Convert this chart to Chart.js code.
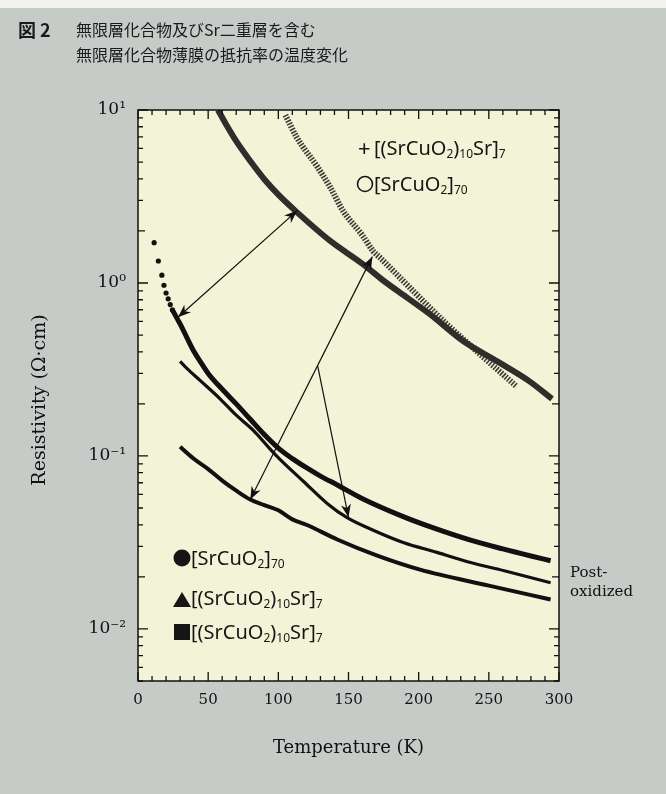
<!DOCTYPE html>
<html><head><meta charset="utf-8">
<script src="https://cdn.jsdelivr.net/npm/chart.js@4.4.1/dist/chart.umd.min.js"></script>
<style>
html,body{margin:0;padding:0;background:#c7cbc8;}
canvas{display:block;}
</style></head>
<body>
<canvas id="c" width="666" height="794"></canvas>
<script>
// ---- data ----
const xTicks = [0, 50, 100, 150, 200, 250, 300];
const yTicks = [0.01, 0.1, 1, 10];

// open circles [SrCuO2]70
const circT = [57, 63, 70, 80, 90, 100, 112, 137, 160, 175, 192, 208, 232, 256, 279, 295];
const circR = [10, 8.2, 6.6, 5.07, 3.98, 3.24, 2.62, 1.75, 1.29, 1.03, 0.82, 0.66, 0.46, 0.352, 0.27, 0.214];

// crosses [(SrCuO2)10Sr]7
const crossT = [105, 113, 128, 137, 146, 160, 167.5, 172.5, 196, 220, 244, 270];
const crossR = [9.35, 6.97, 4.67, 3.57, 2.62, 1.88, 1.53, 1.40, 0.90, 0.578, 0.386, 0.251];

// filled circles [SrCuO2]70 : separate low-T dots, then dense line
const fcDotT = [11.5, 14.5, 17, 18.5, 20, 21.5, 23, 24.5];
const fcDotR = [1.71, 1.34, 1.11, 0.97, 0.875, 0.81, 0.75, 0.70];
const fcLineT = [24.5, 28, 31, 35, 40, 45, 50, 60, 70, 80, 90, 100, 110, 120, 130, 142, 160, 189, 210, 237, 260, 280, 294];
const fcLineR = [0.70, 0.62, 0.56, 0.48, 0.40, 0.345, 0.30, 0.243, 0.20, 0.163, 0.133, 0.111, 0.0965, 0.0855, 0.0765, 0.068, 0.0566, 0.0446, 0.0385, 0.0326, 0.029, 0.0264, 0.0248];

// triangles [(SrCuO2)10Sr]7
const triT = [30, 35, 45, 58.5, 70, 82, 94, 101, 118, 135, 149, 166, 189, 213, 237, 261, 294];
const triR = [0.352, 0.32, 0.27, 0.214, 0.172, 0.141, 0.11, 0.096, 0.0712, 0.053, 0.044, 0.0377, 0.0316, 0.0277, 0.0242, 0.0217, 0.0185];

// squares [(SrCuO2)10Sr]7 post-oxidized
const sqT = [30, 40, 50, 60, 70, 80, 90, 100, 110, 120, 142, 170, 201, 250, 294];
const sqR = [0.113, 0.096, 0.084, 0.072, 0.063, 0.056, 0.052, 0.0485, 0.043, 0.040, 0.0329, 0.0266, 0.022, 0.0178, 0.0148];

// annotation arrows: [T1, R1, T2, R2, headAtStart, headAtEnd]
const arrowA = [113.5, 2.62, 28.5, 0.634, true, true];
const arrowB = [167, 1.42, 80, 0.056, true, true];
const arrowC = [128, 0.333, 150, 0.0442, false, true];

const pts = (xs, ys) => xs.map((x, i) => ({x: x, y: ys[i]}));

const SUP = {'0':'\u2070','1':'\u00b9','2':'\u00b2','3':'\u00b3','-':'\u207b'};
const supStr = s => s.split('').map(ch => SUP[ch] || ch).join('');

const serif = '"DejaVu Serif", "Liberation Serif", serif';
const sans = '"Noto Sans", "Open Sans", sans-serif';
const cjk = '"Noto Sans CJK JP", "Noto Sans", sans-serif';

function drawRich(ctx, x, yMid, parts, size) {
  let cx = x;
  ctx.textBaseline = 'alphabetic';
  ctx.textAlign = 'left';
  const base = yMid + size * 0.36;
  parts.forEach(([t, sub]) => {
    const fs = sub ? Math.round(size * 0.6) : size;
    ctx.font = fs + 'px ' + sans;
    ctx.fillText(t, cx, sub ? base + size * 0.14 : base);
    cx += ctx.measureText(t).width;
  });
}

const bgPlugin = {
  id: 'bg',
  beforeDraw(chart) {
    const {ctx, chartArea: a} = chart;
    ctx.save();
    ctx.fillStyle = '#c7cbc8';
    ctx.fillRect(0, 0, chart.width, chart.height);
    ctx.fillStyle = '#f1f1ef';
    ctx.fillRect(0, 0, chart.width, 8);
    ctx.fillStyle = '#f2f3d7';
    ctx.fillRect(a.left, a.top, a.right - a.left, a.bottom - a.top);
    ctx.restore();
  }
};

function arrowHead(ctx, x1, y1, x2, y2) {
  const ang = Math.atan2(y2 - y1, x2 - x1);
  const L = 13, W = 5;
  ctx.save();
  ctx.translate(x2, y2);
  ctx.rotate(ang);
  ctx.beginPath();
  ctx.moveTo(0, 0);
  ctx.lineTo(-L, -W);
  ctx.lineTo(-L * 0.7, 0);
  ctx.lineTo(-L, W);
  ctx.closePath();
  ctx.fill();
  ctx.restore();
}

const decoPlugin = {
  id: 'deco',
  afterDatasetsDraw(chart) {
    const {ctx, chartArea: a, scales: {x, y}} = chart;
    ctx.save();
    ctx.strokeStyle = '#111';
    ctx.fillStyle = '#111';
    ctx.lineWidth = 1.5;
    ctx.strokeRect(a.left, a.top, a.right - a.left, a.bottom - a.top);
    ctx.lineWidth = 1.3;
    for (let v = x.min; v <= x.max; v += 10) {
      const px = x.getPixelForValue(v);
      const len = (v % 50 === 0) ? 9 : 5;
      ctx.beginPath();
      ctx.moveTo(px, a.bottom); ctx.lineTo(px, a.bottom - len);
      ctx.moveTo(px, a.top); ctx.lineTo(px, a.top + len);
      ctx.stroke();
    }
    for (let d = -3; d <= 1; d++) {
      for (let m = 1; m <= 9; m++) {
        const v = m * Math.pow(10, d);
        if (v < y.min * 0.999 || v > y.max * 1.001) continue;
        const py = y.getPixelForValue(v);
        const len = m === 1 ? 10 : (m === 2 ? 7 : 5);
        ctx.beginPath();
        ctx.moveTo(a.left, py); ctx.lineTo(a.left + len, py);
        ctx.moveTo(a.right, py); ctx.lineTo(a.right - len, py);
        ctx.stroke();
      }
    }
    ctx.lineWidth = 1.2;
    [arrowA, arrowB, arrowC].forEach(ar => {
      const x1 = x.getPixelForValue(ar[0]), y1 = y.getPixelForValue(ar[1]);
      const x2 = x.getPixelForValue(ar[2]), y2 = y.getPixelForValue(ar[3]);
      ctx.beginPath(); ctx.moveTo(x1, y1); ctx.lineTo(x2, y2); ctx.stroke();
      if (ar[4]) arrowHead(ctx, x2, y2, x1, y1);
      if (ar[5]) arrowHead(ctx, x1, y1, x2, y2);
    });
    ctx.restore();
  },
  afterDraw(chart) {
    const {ctx, chartArea: a} = chart;
    ctx.save();
    ctx.fillStyle = '#1a1a1a';
    ctx.textBaseline = 'middle';
    ctx.textAlign = 'left';
    ctx.font = 'bold 18px ' + cjk;
    ctx.fillText('図 2', 18, 30);
    ctx.font = '16px ' + cjk;
    ctx.fillText('無限層化合物及びSr二重層を含む', 76, 30);
    ctx.fillText('無限層化合物薄膜の抵抗率の温度変化', 76, 55);

    ctx.fillStyle = '#111';
    ctx.font = '18px ' + serif;
    ctx.textAlign = 'center';
    ctx.fillText('Temperature (K)', (a.left + a.right) / 2, 748);
    ctx.save();
    ctx.translate(40, 400);
    ctx.rotate(-Math.PI / 2);
    ctx.font = '19px ' + serif;
    ctx.fillText('Resistivity (Ω·cm)', 0, 0);
    ctx.restore();

    ctx.textAlign = 'left';
    ctx.font = '15px ' + serif;
    ctx.fillText('Post-', 570, 573);
    ctx.fillText('oxidized', 570, 592);

    ctx.fillStyle = '#151515';
    ctx.strokeStyle = '#151515';
    drawRich(ctx, 358, 148, [['+', false]], 22);
    drawRich(ctx, 374, 148, [['[(SrCuO', false], ['2', true], [')', false], ['10', true], ['Sr]', false], ['7', true]], 20);
    ctx.lineWidth = 1.6;
    ctx.beginPath(); ctx.arc(365, 184, 7.5, 0, Math.PI * 2); ctx.stroke();
    drawRich(ctx, 374, 184, [['[SrCuO', false], ['2', true], [']', false], ['70', true]], 20);

    ctx.beginPath(); ctx.arc(182, 558, 8.5, 0, Math.PI * 2); ctx.fill();
    drawRich(ctx, 191, 558, [['[SrCuO', false], ['2', true], [']', false], ['70', true]], 20);
    ctx.beginPath(); ctx.moveTo(182, 592); ctx.lineTo(191, 607); ctx.lineTo(173, 607); ctx.closePath(); ctx.fill();
    drawRich(ctx, 191, 598, [['[(SrCuO', false], ['2', true], [')', false], ['10', true], ['Sr]', false], ['7', true]], 20);
    ctx.fillRect(174, 624, 16, 16);
    drawRich(ctx, 191, 632, [['[(SrCuO', false], ['2', true], [')', false], ['10', true], ['Sr]', false], ['7', true]], 20);
    ctx.restore();
  }
};

const lineBase = {showLine: true, pointRadius: 0, fill: false, cubicInterpolationMode: 'monotone'};

new Chart(document.getElementById('c'), {
  type: 'scatter',
  data: {
    datasets: [
      Object.assign({}, lineBase, {label: '[SrCuO2]70 (open)', data: pts(circT, circR), borderColor: '#2e2e2a', borderWidth: 6}),
      Object.assign({}, lineBase, {label: '[SrCuO2]70 (open) inner', data: pts(circT, circR), borderColor: '#b4b4a4', borderWidth: 2.2, borderDash: [2.5, 2.5]}),
      Object.assign({}, lineBase, {label: '[(SrCuO2)10Sr]7 (cross)', data: pts(crossT, crossR), borderColor: '#3c3c36', borderWidth: 6, borderDash: [1.6, 1.4]}),
      {label: '[SrCuO2]70 dots', data: pts(fcDotT, fcDotR), showLine: false, pointRadius: 2.6, pointBackgroundColor: '#111', pointBorderWidth: 0},
      Object.assign({}, lineBase, {label: '[SrCuO2]70 (filled)', data: pts(fcLineT, fcLineR), borderColor: '#111', borderWidth: 5}),
      Object.assign({}, lineBase, {label: '[(SrCuO2)10Sr]7 (triangle)', data: pts(triT, triR), borderColor: '#111', borderWidth: 3.2}),
      Object.assign({}, lineBase, {label: '[(SrCuO2)10Sr]7 (square)', data: pts(sqT, sqR), borderColor: '#111', borderWidth: 4})
    ]
  },
  options: {
    responsive: false,
    animation: false,
    devicePixelRatio: 1,
    layout: {padding: {left: 0, top: 110, right: 107, bottom: 73}},
    plugins: {legend: {display: false}, tooltip: {enabled: false}},
    scales: {
      x: {
        type: 'linear', min: 0, max: 300,
        afterBuildTicks: s => { s.ticks = xTicks.map(v => ({value: v})); },
        afterFit: s => { s.height = 40; },
        grid: {display: false, drawTicks: false},
        border: {display: false},
        ticks: {padding: 10, color: '#111', font: {family: serif, size: 15}, maxRotation: 0}
      },
      y: {
        type: 'logarithmic', min: 0.005, max: 10,
        afterBuildTicks: s => { s.ticks = yTicks.map(v => ({value: v})); },
        afterFit: s => { s.width = 138; },
        grid: {display: false, drawTicks: false},
        border: {display: false},
        ticks: {
          padding: 12, color: '#111', font: {family: serif, size: 17},
          callback: v => '10' + supStr(String(Math.round(Math.log10(v))))
        }
      }
    }
  },
  plugins: [bgPlugin, decoPlugin]
});
</script>
</body></html>
